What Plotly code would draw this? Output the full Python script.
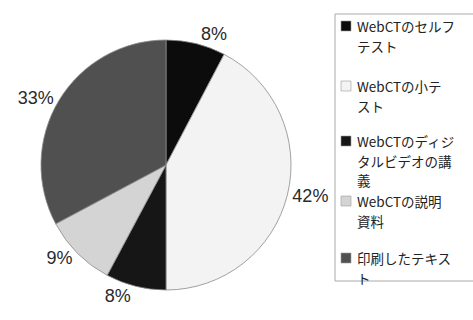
import plotly.graph_objects as go

# ---- data ----
categories = [
    "WebCTのセルフテスト",
    "WebCTの小テスト",
    "WebCTのディジタルビデオの講義",
    "WebCTの説明資料",
    "印刷したテキスト",
]
legend_lines = [
    ["WebCTのセルフ", "テスト"],
    ["WebCTの小テ", "スト"],
    ["WebCTのディジ", "タルビデオの講", "義"],
    ["WebCTの説明", "資料"],
    ["印刷したテキス", "ト"],
]
values = [7.7, 42.3, 7.8, 9.4, 32.8]
colors = ["#0c0c0c", "#f3f3f3", "#161616", "#d4d4d4", "#505050"]

W, H = 473, 320
cx, cy, r = 166, 165, 125

fig = go.Figure()
fig.add_trace(go.Pie(
    labels=categories,
    values=values,
    sort=False,
    direction="clockwise",
    rotation=0,
    marker=dict(colors=colors, line=dict(color="#8a8a8a", width=0.8)),
    textposition="outside",
    texttemplate="%{percent:.0%}",
    textfont=dict(family="Liberation Sans, Arial, sans-serif", size=18, color="#2a2a2a"),
    hoverinfo="label+percent",
    domain=dict(x=[(cx - r) / W, (cx + r) / W], y=[(H - cy - r) / H, (H - cy + r) / H]),
    showlegend=False,
))

shapes = [dict(type="rect", xref="paper", yref="paper",
               x0=335 / W, x1=480 / W, y0=1 - 281 / H, y1=1 - 14 / H,
               line=dict(color="#aaaaaa", width=1), fillcolor="rgba(0,0,0,0)")]
annotations = []
item_centers = [26, 86, 141, 201, 258]
fs = 13.5
line_step = 19.6
for lines, col, yc in zip(legend_lines, colors, item_centers):
    shapes.append(dict(type="rect", xref="paper", yref="paper",
                       x0=341 / W, x1=351 / W, y0=1 - (yc + 5) / H, y1=1 - (yc - 5) / H,
                       line=dict(color="#9a9a9a", width=0.6), fillcolor=col))
    for k, txt in enumerate(lines):
        annotations.append(dict(x=356 / W, y=1 - (yc + k * line_step) / H,
                                xref="paper", yref="paper",
                                xanchor="left", yanchor="middle", align="left",
                                showarrow=False, text=txt, borderpad=0,
                                font=dict(family="Noto Sans CJK JP", size=fs, color="#222222")))

fig.update_layout(
    width=W, height=H,
    margin=dict(l=0, r=0, t=0, b=0),
    paper_bgcolor="white", plot_bgcolor="white",
    shapes=shapes, annotations=annotations,
)
fig.write_html("out.html")
